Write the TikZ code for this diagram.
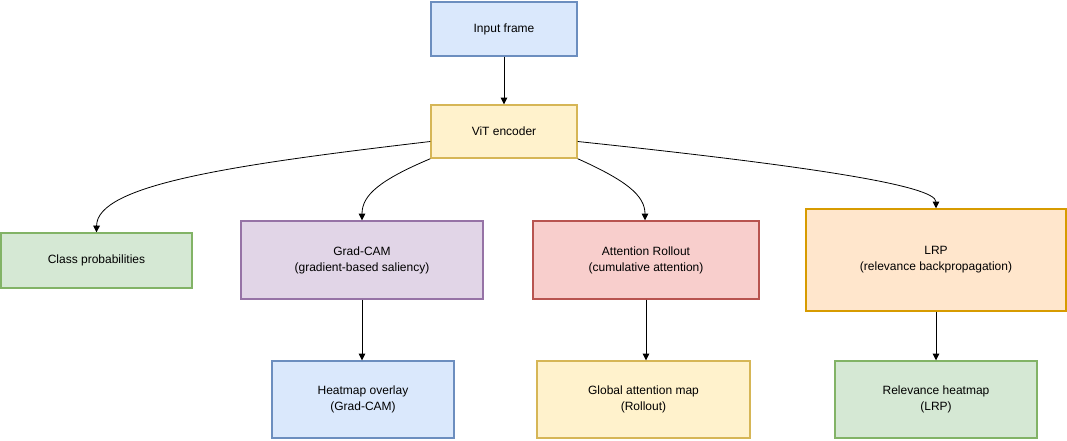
\documentclass[tikz,border=0pt]{standalone}
\usepackage{fontspec}
\setmainfont{Liberation Sans}
\usetikzlibrary{arrows.meta,calc}
\definecolor{bluef}{HTML}{DAE8FC}\definecolor{blued}{HTML}{6C8EBF}
\definecolor{yelf}{HTML}{FFF2CC}\definecolor{yeld}{HTML}{D6B656}
\definecolor{grnf}{HTML}{D5E8D4}\definecolor{grnd}{HTML}{82B366}
\definecolor{purf}{HTML}{E1D5E7}\definecolor{purd}{HTML}{9673A6}
\definecolor{redf}{HTML}{F8CECC}\definecolor{redd}{HTML}{B85450}
\definecolor{orf}{HTML}{FFE6CC}\definecolor{ord}{HTML}{D79B00}
\tikzset{
  box/.style={rectangle, line width=1.1pt, align=center, inner sep=2pt,
    font=\fontsize{9}{12}\selectfont},
  bluebox/.style={box, fill=bluef, draw=blued},
  yelbox/.style={box, fill=yelf, draw=yeld},
  grnbox/.style={box, fill=grnf, draw=grnd},
  purbox/.style={box, fill=purf, draw=purd},
  redbox/.style={box, fill=redf, draw=redd},
  orbox/.style={box, fill=orf, draw=ord},
  conn/.style={line width=0.6pt, -{Triangle[length=5pt,width=5pt]}},
}
\begin{document}
\begin{tikzpicture}[x=0.75pt,y=-0.75pt]
\useasboundingbox (0,0) rectangle (1067,440);
\node[bluebox, minimum width=109.5pt, minimum height=40.5pt] (in) at (504,29) {Input frame};
\node[yelbox, minimum width=109.5pt, minimum height=39.75pt] (vit) at (504,131.5) {ViT encoder};
\node[grnbox, minimum width=143.25pt, minimum height=41.25pt] (cls) at (96.5,260.5) {Class probabilities};
\node[purbox, minimum width=181.5pt, minimum height=58.5pt] (gc) at (362,260) {Grad-CAM\\(gradient-based saliency)};
\node[redbox, minimum width=169.5pt, minimum height=58.5pt] (ar) at (646,260) {Attention Rollout\\(cumulative attention)};
\node[orbox, minimum width=195pt, minimum height=76.5pt] (lrp) at (936,260) {LRP\\(relevance backpropagation)};
\node[bluebox, minimum width=136.5pt, minimum height=57.75pt] (hm) at (363,399.5) {Heatmap overlay\\(Grad-CAM)};
\node[yelbox, minimum width=159.75pt, minimum height=57.75pt] (gam) at (643.5,399.5) {Global attention map\\(Rollout)};
\node[grnbox, minimum width=151.5pt, minimum height=57.75pt] (rh) at (936,399.5) {Relevance heatmap\\(LRP)};

\draw[conn] (in.south) -- (vit.north);
\draw[conn] ($(vit.west)+(0,10)$) .. controls (230,165) and (97,185) .. (cls.north);
\draw[conn] (vit.south west) .. controls (380,180) and (362,195) .. (gc.north);
\draw[conn] (vit.south east) .. controls (625,180) and (645,195) .. ($(ar.north)+(-1,0)$);
\draw[conn] ($(vit.east)+(0,10)$) .. controls (800,165) and (936,185) .. (lrp.north);
\draw[conn] (gc.south) -- (hm.north -| gc.south);
\draw[conn] (ar.south) -- (gam.north -| ar.south);
\draw[conn] (lrp.south) -- (rh.north);
\end{tikzpicture}
\end{document}
